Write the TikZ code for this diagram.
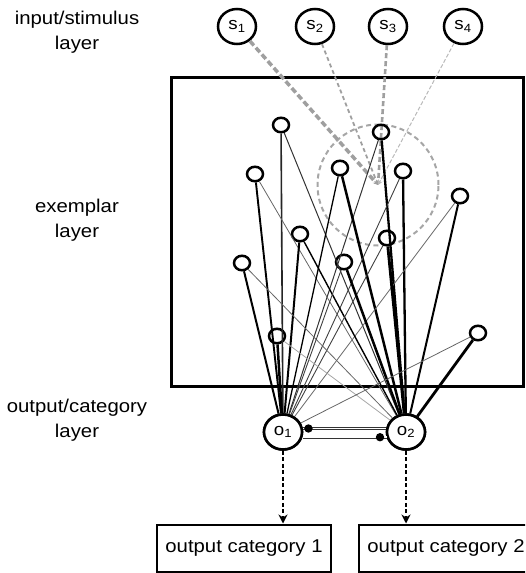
\documentclass[tikz,border=0pt]{standalone}
\usepackage{fontspec}
\setmainfont[FakeStretch=1.1]{Liberation Sans}
\usetikzlibrary{arrows.meta,shapes.geometric}
\begin{document}
\begin{tikzpicture}[x=1pt,y=-1pt,
  lab/.style={align=center,font=\fontsize{18.5}{25}\selectfont},
  stim/.style={ellipse,draw,line width=2.5pt,minimum width=38,minimum height=35,inner sep=0,font=\fontsize{17}{17}\selectfont},
  outn/.style={ellipse,draw,line width=2.6pt,minimum width=38,minimum height=35,inner sep=0,fill=white,font=\fontsize{17}{17}\selectfont},
  ex/.style={ellipse,draw,line width=2.5pt,minimum width=16,minimum height=14.5,inner sep=0},
  catbox/.style={draw,line width=2pt,minimum width=174,minimum height=47,inner sep=0,font=\fontsize{18.5}{22}\selectfont},
  sline/.style={gray!75,dash pattern=on 5pt off 3pt,-{Stealth[length=5pt,width=5pt]}},
  conn/.style={line width=#1},
  inhib/.style={draw=gray!40!black,line width=0.7pt,double=white,double distance=1.6pt},
  dasharrow/.style={line width=2pt,dash pattern=on 4pt off 2.5pt,-{Stealth[length=9pt,width=9pt]}}
]
\useasboundingbox (0,0) rectangle (525,573);
\clip (0,0) rectangle (525,573);

% layer labels
\node[lab] (l1) at (77,32) {input/stimulus\\layer};
\node[lab] (l2) at (77,220) {exemplar\\layer};
\node[lab] (l3) at (77,420) {output/category\\layer};

% exemplar box
\draw[line width=3pt] (171,77) rectangle (523,386);

% stimulus nodes
\node[stim] (s1) at (237,26.5) {s\textsubscript{1}};
\node[stim] (s2) at (315,26.5) {s\textsubscript{2}};
\node[stim] (s3) at (388,26.5) {s\textsubscript{3}};
\node[stim] (s4) at (463,26.5) {s\textsubscript{4}};

\coordinate (T) at (378,185);
\node[circle,draw=gray!70,line width=2pt,dash pattern=on 5pt off 3.5pt,minimum size=121,inner sep=0] (rf) at (T) {};

\draw[sline,line width=3.5pt,dash pattern=on 6pt off 3pt] (s1) -- (T);
\draw[sline,line width=1.8pt,dash pattern=on 4pt off 3pt] (s2) -- (T);
\draw[sline,line width=2.6pt] (s3) -- (T);
\draw[sline,gray!55,line width=1pt,dash pattern=on 4pt off 2pt] (s4) -- (T);

% exemplar nodes
\node[ex] (e1) at (281,125) {};
\node[ex] (e2) at (381,132) {};
\node[ex] (e3) at (255,174) {};
\node[ex] (e4) at (340,168) {};
\node[ex] (e5) at (403,171) {};
\node[ex] (e6) at (460,196) {};
\node[ex] (e7) at (300,234) {};
\node[ex] (e8) at (387,238) {};
\node[ex] (e9) at (242,263) {};
\node[ex] (e10) at (344,262) {};
\node[ex] (e11) at (277,336) {};
\node[ex] (e12) at (478,333) {};

% output nodes
\node[outn] (o1) at (283,432) {o\textsubscript{1}};
\node[outn] (o2) at (406,432) {o\textsubscript{2}};

% connections
\draw[conn=1.6pt,black!85] (e1) -- (o1);
\draw[conn=1pt,black!80] (e1) -- (o2);
\draw[conn=1pt,black!80] (e2) -- (o1);
\draw[conn=2.3pt] (e2) -- (o2);
\draw[conn=1.9pt] (e3) -- (o1);
\draw[conn=0.8pt,black!60] (e3) -- (o2);
\draw[conn=1.3pt] (e4) -- (o1);
\draw[conn=2.5pt] (e4) -- (o2);
\draw[conn=0.9pt,black!75] (e5) -- (o1);
\draw[conn=2.3pt] (e5) -- (o2);
\draw[conn=0.8pt,black!60] (e6) -- (o1);
\draw[conn=2pt] (e6) -- (o2);
\draw[conn=2pt] (e7) -- (o1);
\draw[conn=1.4pt] (e7) -- (o2);
\draw[conn=0.9pt,black!75] (e8) -- (o1);
\draw[conn=2.8pt] (e8) -- (o2);
\draw[conn=2pt] (e9) -- (o1);
\draw[conn=0.8pt,black!60] (e9) -- (o2);
\draw[conn=0.9pt,black!75] (e10) -- (o1);
\draw[conn=2.5pt] (e10) -- (o2);
\draw[conn=2.5pt] (e11) -- (o1);
\draw[conn=0.8pt,black!35] (e11) -- (o2);
\draw[conn=0.8pt,black!60] (e12) -- (o1);
\draw[conn=2.8pt] (e12) -- (o2);

% redraw output nodes on top
\node[outn] (o1b) at (o1) {o\textsubscript{1}};
\node[outn] (o2b) at (o2) {o\textsubscript{2}};

% inhibitory connections
\draw[inhib] (o1b.10) -- (o2b.170);
\draw[inhib] (o1b.-15) -- (o2b.195);
\fill ([xshift=5.5pt]o1b.10) circle (4.2pt);
\fill ([xshift=-6.5pt]o2b.195) circle (4.2pt);

% output categories
\node[catbox] (c1) at (244,548) {output category 1};
\node[catbox] (c2) at (446,548) {output category 2};

\draw[dasharrow] (o1b.south) -- (o1b.south |- c1.north);
\draw[dasharrow] (o2b.south) -- (o2b.south |- c2.north);
\end{tikzpicture}
\end{document}
